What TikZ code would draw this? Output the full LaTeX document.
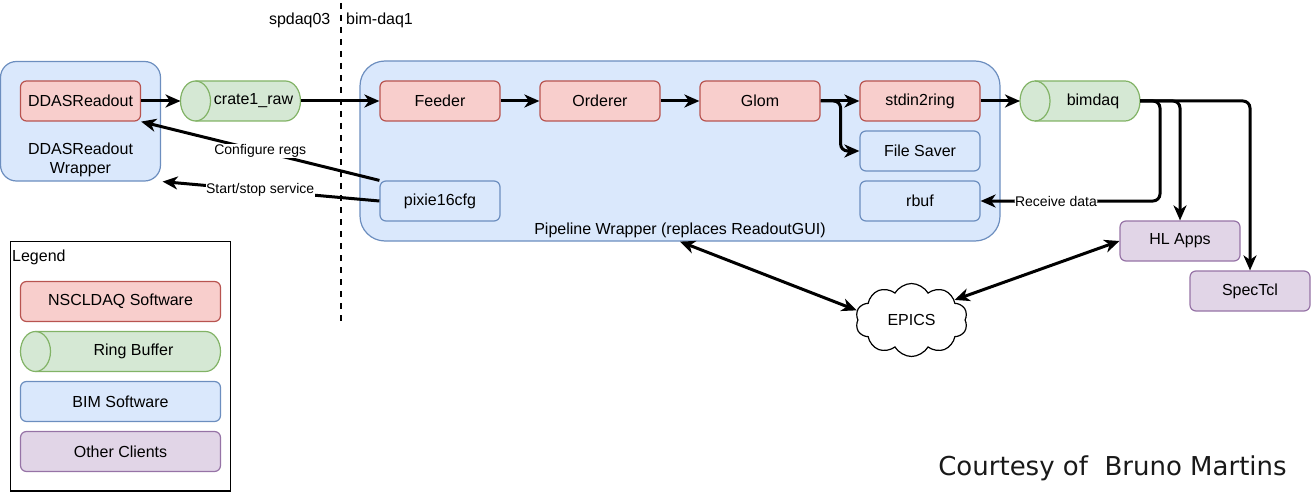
\documentclass[tikz,border=0pt]{standalone}
\usepackage{fontspec}
\setmainfont{Liberation Sans}
\newfontfamily\djv{DejaVu Sans}
\usetikzlibrary{arrows.meta,shapes.symbols,calc}
\definecolor{nred}{HTML}{F8CECC}\definecolor{sred}{HTML}{B85450}
\definecolor{ngreen}{HTML}{D5E8D4}\definecolor{sgreen}{HTML}{82B366}
\definecolor{nblue}{HTML}{DAE8FC}\definecolor{sblue}{HTML}{6C8EBF}
\definecolor{npurp}{HTML}{E1D5E7}\definecolor{spurp}{HTML}{9673A6}
\tikzset{
  txt/.style={font=\fontsize{16pt}{19pt}\selectfont},
  lbl/.style={fill=white, font=\fontsize{14pt}{16pt}\selectfont, inner sep=0.5pt},
  box/.style={rectangle, rounded corners=6pt, minimum width=120pt, minimum height=40pt, line width=1.2pt, inner sep=0pt, txt},
  redbox/.style={box, fill=nred, draw=sred},
  bluebox/.style={box, fill=nblue, draw=sblue},
  purpbox/.style={box, fill=npurp, draw=spurp},
  conn/.style={line width=3pt, -{Stealth[length=15pt,width=13pt,inset=4.5pt]}},
  dconn/.style={line width=3pt, {Stealth[length=15pt,width=13pt,inset=4.5pt]}-{Stealth[length=15pt,width=13pt,inset=4.5pt]}},
}
\newcommand\ringbuf[5]{%
  \node[minimum width=#4, minimum height=40pt, inner sep=0pt, outer sep=0pt] (#1) at (#2,#3) {};
  \path[draw=sgreen, fill=ngreen, line width=1.2pt]
    ($(#1.north west)+(15,0)$) -- ($(#1.north east)+(-15,0)$)
    arc[start angle=90, end angle=-90, x radius=15pt, y radius=20pt]
    -- ($(#1.south west)+(15,0)$)
    arc[start angle=270, end angle=90, x radius=15pt, y radius=20pt] -- cycle;
  \draw[sgreen, line width=1.2pt] ($(#1.north west)+(15,0)$)
    arc[start angle=90, end angle=-90, x radius=15pt, y radius=20pt];
  \node[txt, inner sep=0pt] (#1-t) at ($(#1.center)+(13,0)$) {#5};
}
\begin{document}
\begin{tikzpicture}[x=1pt,y=-1pt]
\useasboundingbox (0,0) rectangle (1311,492);

% host labels and separator
\node[txt] (host1) at (299.7,20) {spdaq03};
\node[txt] (host2) at (379.5,20) {bim-daq1};
\coordinate (sepA) at (341,3);
\coordinate (sepB) at (341,322);
\draw[line width=2.2pt, dash pattern=on 6pt off 6pt] (sepA) -- (sepB);

% DDAS wrapper
\node[rectangle, rounded corners=16pt, fill=nblue, draw=sblue, line width=1.2pt,
      minimum width=160pt, minimum height=119.5pt] (wrap) at (80.5,121.25) {};
\node[txt, align=center, inner sep=0pt] (wraptext) at (80.5,160) {DDASReadout\\Wrapper};
\node[redbox] (ddas) at (80.5,101) {DDASReadout};

\ringbuf{crate}{240.5}{101}{120pt}{crate1\_raw}

% Pipeline wrapper
\node[rectangle, rounded corners=25pt, fill=nblue, draw=sblue, line width=1.2pt,
      minimum width=640pt, minimum height=180pt] (pipe) at (680,151) {};
\node[txt, inner sep=0pt] (pipetext) at (680,230) {Pipeline Wrapper (replaces ReadoutGUI)};
\node[redbox] (feeder) at (440,101) {Feeder};
\node[redbox] (orderer) at (600,101) {Orderer};
\node[redbox] (glom) at (760,101) {Glom};
\node[redbox] (s2r) at (920,101) {stdin2ring};
\node[bluebox] (fs) at (920,151) {File Saver};
\node[bluebox] (rbuf) at (920,201) {rbuf};
\node[bluebox] (pixie) at (440,201) {pixie16cfg};

\ringbuf{bim}{1080}{101}{120pt}{bimdaq}

\node[purpbox] (hl) at (1180,241) {HL Apps};
\node[purpbox] (spec) at (1250,291) {SpecTcl};

\node[cloud, cloud puffs=10, cloud puff arc=120, cloud ignores aspect, draw, fill=white, line width=1.2pt,
      minimum width=112pt, minimum height=73pt, inner sep=0pt, txt] (epics) at (911.5,320) {EPICS};

% connectors
\draw[conn] (ddas.east) -- (crate.west);
\draw[conn] (crate.east) -- (feeder.west);
\draw[conn] (feeder.east) -- (orderer.west);
\draw[conn] (orderer.east) -- (glom.west);
\draw[conn] (glom.east) -- (s2r.west);
\draw[conn, rounded corners=7pt] (glom.east) -- ++(20,0) |- (fs.west);
\draw[conn] (s2r.east) -- (bim.west);
\draw[conn, rounded corners=7pt] (bim.east) -| (hl.north);
\draw[conn, rounded corners=7pt] (bim.east) -| (spec.north);
\draw[conn, rounded corners=7pt] (bim.east) -- ++(20,0) |- node[lbl, pos=0.79] {Receive data} (rbuf.east);
\draw[conn] (pixie.north west) -- node[lbl] {Configure regs} (ddas.south east);
\draw[conn] (pixie.west) -- node[lbl, pos=0.55] {Start/stop service} ($(wrap.south east)+(1.5,0)$);
\draw[dconn] (pipe.south) -- (epics.170);
\draw[dconn] (hl.west) -- (epics.25);

% legend
\node[draw, line width=1.2pt, minimum width=220pt, minimum height=249.5pt, inner sep=0pt] (legend) at (120.5,366.25) {};
\node[txt, anchor=west, inner sep=0pt] (legtitle) at (12,257.5) {Legend};
\node[redbox, minimum width=200pt] (lg1) at (120.5,301.5) {NSCLDAQ Software};
\ringbuf{lg2}{120.5}{351.5}{200pt}{Ring Buffer}
\node[bluebox, minimum width=200pt] (lg3) at (120.5,401.5) {BIM Software};
\node[purpbox, minimum width=200pt] (lg4) at (120.5,451.5) {Other Clients};

% credit
\node[font=\djv\fontsize{26pt}{30pt}\selectfont, anchor=base, inner sep=0pt, text=black!90] (credit) at (1112.5,475.7) {Courtesy of\ \ Bruno Martins};
\end{tikzpicture}
\end{document}
